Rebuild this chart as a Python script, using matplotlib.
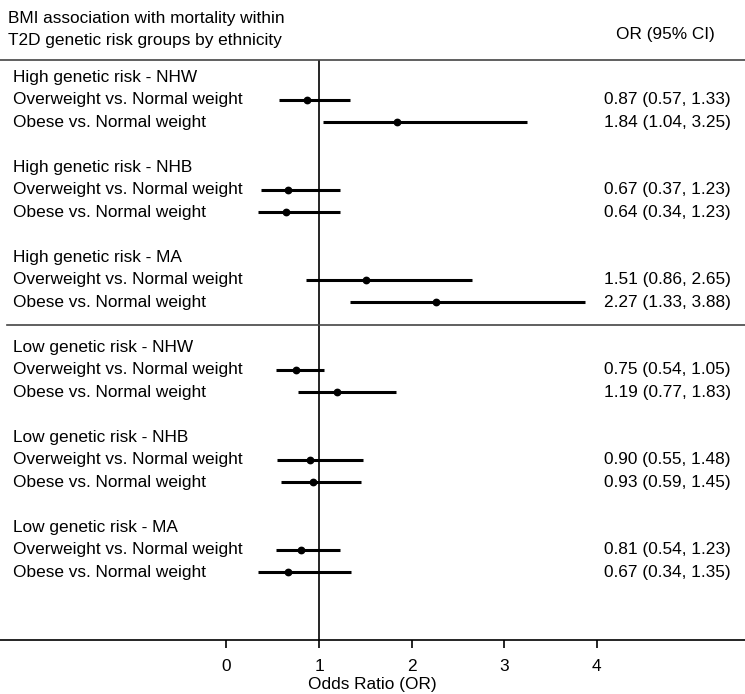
import matplotlib
matplotlib.use("Agg")
import matplotlib.pyplot as plt
import matplotlib.transforms as mtransforms

plt.rcParams['font.family'] = ['Liberation Sans', 'DejaVu Sans']

# data
groups = [
    "High genetic risk - NHW",
    "High genetic risk - NHB",
    "High genetic risk - MA",
    "Low genetic risk - NHW",
    "Low genetic risk - NHB",
    "Low genetic risk - MA",
]
contrasts = ["Overweight vs. Normal weight", "Obese vs. Normal weight"]
or_vals = [0.87, 1.84, 0.67, 0.64, 1.51, 2.27, 0.75, 1.19, 0.90, 0.93, 0.81, 0.67]
ci_low = [0.57, 1.04, 0.37, 0.34, 0.86, 1.33, 0.54, 0.77, 0.55, 0.59, 0.54, 0.34]
ci_high = [1.33, 3.25, 1.23, 1.23, 2.65, 3.88, 1.05, 1.83, 1.48, 1.45, 1.23, 1.35]
xticks = [0, 1, 2, 3, 4]

fs = 12.4
W, H = 745, 694
fig = plt.figure(figsize=(W / 100, H / 100), dpi=100)
ax = fig.add_axes([0, (H - 640) / H, 1, (640 - 60) / H])

ax.set_xlim(-226.5 / 92.5, (W - 226.5) / 92.5)
ax.set_ylim(25.0, -0.755)

trans = mtransforms.blended_transform_factory(ax.transAxes, ax.transData)

k = 0
for g, name in enumerate(groups):
    base = 4 * g
    ax.text(13 / W, base, name, transform=trans, ha='left', va='center', fontsize=fs)
    for j, c in enumerate(contrasts):
        y = base + 1 + j
        ax.text(13 / W, y, c, transform=trans, ha='left', va='center', fontsize=fs)
        ax.plot([ci_low[k], ci_high[k]], [y, y], color='black', lw=2.2, solid_capstyle='butt')
        ax.plot(or_vals[k], y, 'o', color='black', markersize=4.6)
        label = "%.2f (%.2f, %.2f)" % (or_vals[k], ci_low[k], ci_high[k])
        ax.text(731 / W, y, label, transform=trans, ha='right', va='center', fontsize=fs)
        k += 1

# null line and separator between high and low risk
ax.axvline(1, color='black', lw=1.2)
ax.axhline(11, xmin=7 / W, xmax=1, color='#444444', lw=1.2)

for s in ['left', 'right']:
    ax.spines[s].set_visible(False)
ax.spines['top'].set_color('#444444')
ax.spines['top'].set_linewidth(1.2)
ax.spines['bottom'].set_linewidth(1.2)

ax.set_yticks([])
ax.set_xticks(xticks)
ax.tick_params(axis='x', direction='out', length=6, width=1.2, labelsize=fs, pad=8)
ax.set_xlabel("Odds Ratio (OR)", fontsize=fs, labelpad=2)

fig.text(8 / W, 1 - 18 / H, "BMI association with mortality within", ha='left', va='center', fontsize=fs)
fig.text(8 / W, 1 - 41 / H, "T2D genetic risk groups by ethnicity", ha='left', va='center', fontsize=fs)
fig.text(715 / W, 1 - 35 / H, "OR (95% CI)", ha='right', va='center', fontsize=fs)

fig.savefig("out.png", dpi=100)
